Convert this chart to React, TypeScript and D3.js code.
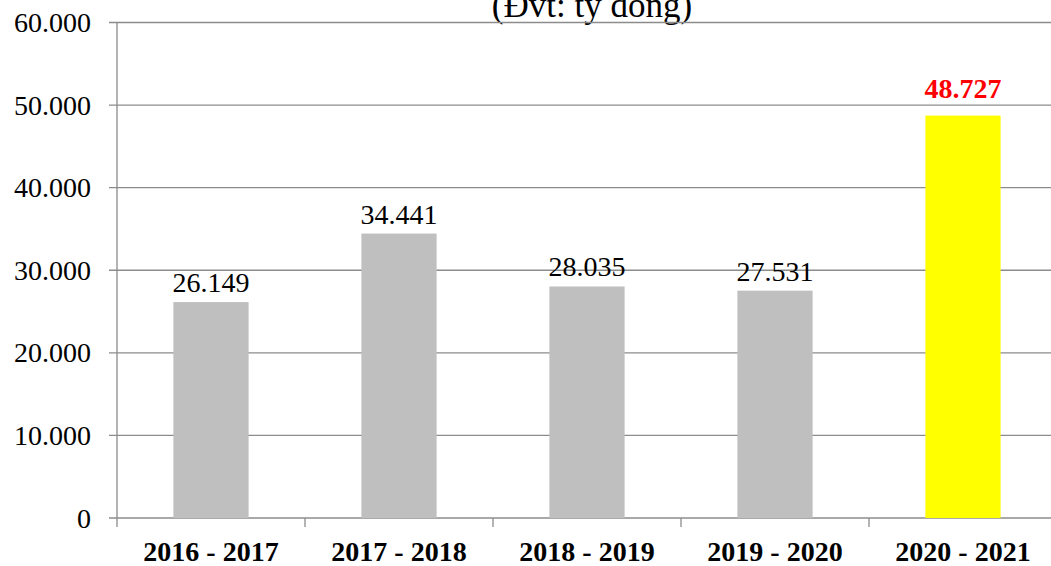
import React from "react";
import * as d3 from "d3";

const categories = ["2016 - 2017", "2017 - 2018", "2018 - 2019", "2019 - 2020", "2020 - 2021"];
const values = [26149, 34441, 28035, 27531, 48727];
const labels = ["26.149", "34.441", "28.035", "27.531", "48.727"];
const yTicks = [0, 10000, 20000, 30000, 40000, 50000, 60000];
const yTickLabels = ["0", "10.000", "20.000", "30.000", "40.000", "50.000", "60.000"];
const title = "(Đvt: tỷ đồng)";

export default function App() {
  const W = 1051, H = 566;
  const left = 117, right = 1057, top = 22.5, bottom = 518;
  const x = d3.scaleBand<string>().domain(categories).range([left, right]).paddingInner(0.6).paddingOuter(0.3);
  const xb = d3.scaleBand<string>().domain(categories).range([left, right]);
  const y = d3.scaleLinear().domain([0, 60000]).range([bottom, top]);
  const font = "'Liberation Serif', 'Times New Roman', serif";
  const grid = "#8c8c8c";
  return (
    <svg width={W} height={H} style={{ position: "absolute", left: 0, top: 0, background: "#fff" }} fontFamily={font}>
      <text x={592} y={17} fontSize={35} textAnchor="middle" fill="#000">{title}</text>
      {yTicks.map((t, i) => (
        <g key={t}>
          <line x1={left - 8} x2={i === 0 ? right : W} y1={y(t)} y2={y(t)} stroke={grid} strokeWidth={1.3} />
          <text x={91} y={y(t) + 9.5} fontSize={28} textAnchor="end" fill="#000">{yTickLabels[i]}</text>
        </g>
      ))}
      <line x1={left} x2={left} y1={top} y2={bottom} stroke={grid} strokeWidth={1.3} />
      {categories.map((c) => (
        <line key={c} x1={xb(c)!} x2={xb(c)!} y1={bottom} y2={bottom + 9} stroke={grid} strokeWidth={1.3} />
      ))}
      {categories.map((c, i) => {
        const last = i === categories.length - 1;
        return (
          <g key={c}>
            <rect x={x(c)!} y={y(values[i])} width={x.bandwidth()} height={bottom - y(values[i])} fill={last ? "#ffff00" : "#bfbfbf"} />
            <text x={x(c)! + x.bandwidth() / 2} y={y(values[i]) - (last ? 18 : 10)} fontSize={28} fontWeight={last ? "bold" : "normal"} textAnchor="middle" fill={last ? "#ff0000" : "#000"}>{labels[i]}</text>
            <text x={xb(c)! + xb.bandwidth() / 2} y={561} fontSize={28} fontWeight="bold" textAnchor="middle" fill="#000">{c}</text>
          </g>
        );
      })}
    </svg>
  );
}
